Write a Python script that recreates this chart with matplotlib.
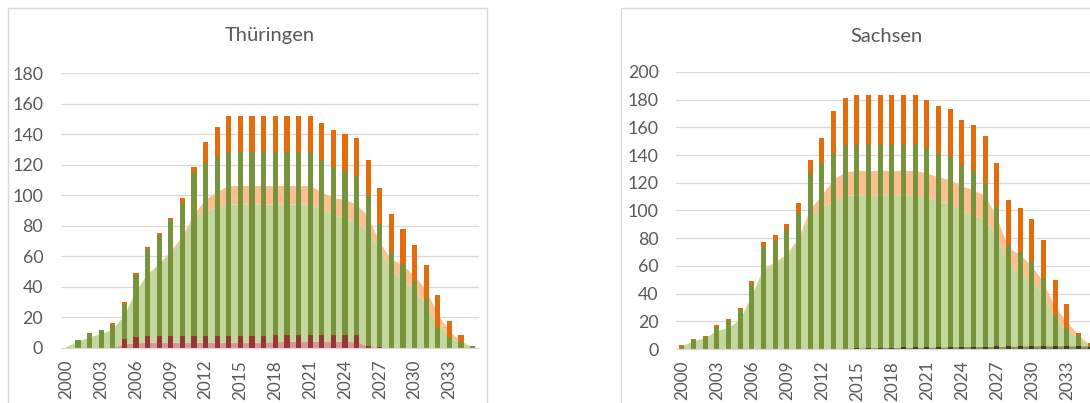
import numpy as np
import matplotlib
matplotlib.use("Agg")
import matplotlib.pyplot as plt
from matplotlib.patches import Rectangle

plt.rcParams['font.family'] = ['Lato', 'DejaVu Sans']

years = list(range(2000, 2036))
tick_years = list(range(2000, 2034, 3))

# Thüringen - bars (stacked segments)
th_bar_red = [0, 0, 0, 0, 0, 6, 7,
              8, 8, 8, 8, 8, 8, 8, 8, 8, 8, 8,
              8.5, 8.5, 8.5, 8.5, 8.5, 8.5, 8.5, 8.5,
              1.5, 0.5, 0, 0, 0, 0, 0, 0, 0, 0]
th_bar_green = [0, 5, 10, 12, 15, 23, 41, 57, 66, 76, 87, 107, 113, 117,
                120, 120, 120, 120, 119.5, 119.5, 119.5, 119.5,
                114.5, 110, 107.5, 104, 98.5, 80.5, 63, 55, 44, 33, 14, 7.5, 3.7, 1.3]
th_bar_orange = [0, 0, 0, 0, 1.3, 1, 1, 1, 1, 1.2, 3, 3.5, 14, 19.6,
                 24, 24, 24, 24, 24, 24, 24, 23.6,
                 24.5, 24, 24, 24.8, 23, 24, 24.4, 23.2, 23.3, 21.2, 20.6, 9.9, 4.8, 0]

# Thüringen - areas (stacked segments)
th_area_red = [0, 0, 0, 0, 0, 2.5, 3,
               3.5, 3.5, 3.5, 3.5, 3.5, 3.5, 3.5, 3.5, 3.5, 3.5, 3.5,
               4, 4, 4, 4, 4, 4, 4, 4,
               1, 0, 0, 0, 0, 0, 0, 0, 0, 0]
th_area_green = [0.5, 4, 7, 9, 12, 18.5, 34, 44.5, 51.5, 58.5, 67.5, 81.5, 85.5, 88.5,
                 90.5, 90.5, 90.5, 90.5, 90, 90, 90, 90,
                 87, 83, 81, 78, 75, 64, 52, 44, 38, 28, 16, 7, 3, 1]
th_area_orange = [0, 0, 0, 0, 0, 0, 0, 0, 0, 1, 2, 2, 8, 10,
                  12, 12, 12, 12, 12, 12, 12, 12,
                  11, 11, 12, 12, 10, 5, 6, 10, 9, 10, 6, 4, 1, 0]

# Sachsen - bars (stacked segments)
sn_bar_dark = [0] * 15 + [0.5, 0.5, 0.5, 0.5,
                          1.2, 1.2, 1.2, 1.2, 1.2, 1.2, 1.2, 1.2,
                          2.2, 2.2, 2.2, 2.2, 2.2, 2.2, 2.2, 2.2, 1.5]
sn_bar_green = [1.7, 6.5, 8.7, 16, 20, 28, 47, 74, 78, 86, 98, 126, 134, 141,
                147, 147, 147, 147, 147, 147, 147,
                144, 140, 138, 131, 127, 119, 100, 73, 68, 61, 49, 22, 13, 7, 1.5]
sn_bar_orange = [1.2, 0.7, 0.9, 1.2, 1.9, 1.7, 2.2, 3.4, 4.1, 4.3, 7.2, 10.4, 18, 31,
                 34.5, 35.7, 35.7, 35.7, 35.7, 35, 35,
                 34.7, 34, 33.8, 33.5, 33.7, 33.4, 32.3, 32.3, 31.8, 30.9, 27.7, 25.5, 17, 2.4, 1]

# Sachsen - areas (stacked segments)
sn_area_dark = [0] * 13 + [0.3, 0.4, 0.5, 0.6, 0.7, 0.8, 0.9, 1.0, 1.1, 1.2, 1.3, 1.4,
                           1.5, 1.6, 1.7, 1.8, 1.9, 2, 2, 2, 2, 2, 2]
sn_area_green = [1.7, 5.4, 7.8, 13, 15, 21, 38, 57, 61, 67, 78, 96, 102, 106, 110,
                 110.5, 110.4, 110.3, 110.2, 110.1, 110,
                 109, 105, 104, 98, 95, 92, 79, 60, 52, 47, 38, 20, 12, 6, 0.5]
sn_area_orange = [0, 0, 0, 0, 0, 0, 0, 1, 1.3, 1.3, 1.5, 4.5, 8.5, 15.7, 17,
                  17.5, 17.5, 17.5, 17.5, 17.5, 17.5,
                  16.8, 17.6, 16.8, 18, 18, 17,
                  14.5, 11, 14, 11, 8, 8, 6, 2, 0.5]

W, H = 1090, 403
fig = plt.figure(figsize=(W / 100, H / 100), dpi=100)
grey = '#595959'


def px_axes(x0, y_top, x1, y_bot):
    return fig.add_axes([x0 / W, 1 - y_bot / H, (x1 - x0) / W, (y_bot - y_top) / H])


def draw(ax, bars, bar_colors, areas, area_colors, ymax):
    x = np.arange(len(years))
    ax.stackplot(x, *areas, colors=area_colors, lw=0, zorder=2)
    bottom = np.zeros(len(years))
    for vals, c in zip(bars, bar_colors):
        vals = np.array(vals, dtype=float)
        ax.bar(x, vals, width=0.45, bottom=bottom, color=c, lw=0, zorder=3)
        bottom += vals
    ax.set_xlim(-0.5, len(years) - 0.5)
    ax.set_ylim(0, ymax)
    ax.set_yticks(range(0, ymax + 1, 20))
    ax.set_xticks([years.index(y) for y in tick_years])
    ax.set_xticklabels([str(y) for y in tick_years], rotation=90)
    ax.tick_params(axis='y', length=0, pad=12.5, labelsize=12.8, labelcolor=grey)
    ax.tick_params(axis='x', length=0, pad=8.5, labelsize=12.3, labelcolor=grey)
    ax.yaxis.grid(True, color='#D9D9D9', lw=0.9, zorder=0)
    ax.set_axisbelow(True)
    for s in ['top', 'right', 'left']:
        ax.spines[s].set_visible(False)
    ax.spines['bottom'].set_color('#D9D9D9')
    ax.spines['bottom'].set_zorder(4)


# panel borders
for (x0, x1) in [(8, 487), (621, 1150)]:
    fig.add_artist(Rectangle((x0 / W, -0.1), (x1 - x0) / W, 1.1 - 8 / H,
                             transform=fig.transFigure, fill=False,
                             edgecolor='#D9D9D9', lw=1))

ax1 = px_axes(60.5, 73, 478.5, 348)
draw(ax1, [th_bar_red, th_bar_green, th_bar_orange],
     ['#953735', '#77933C', '#E46C0A'],
     [th_area_red, th_area_green, th_area_orange],
     ['#D99694', '#C3D69B', '#FAC090'], 180)
fig.text(270 / W, 1 - 36 / H, 'Thüringen', ha='center', va='center',
         fontsize=14.5, color=grey)

ax2 = px_axes(676, 72, 1096, 349)
draw(ax2, [sn_bar_dark, sn_bar_green, sn_bar_orange],
     ['#403A2A', '#77933C', '#E46C0A'],
     [sn_area_dark, sn_area_green, sn_area_orange],
     ['#948A54', '#C3D69B', '#FAC090'], 200)
fig.text(886 / W, 1 - 36 / H, 'Sachsen', ha='center', va='center',
         fontsize=14.5, color=grey)

fig.savefig('out.png', dpi=100)
